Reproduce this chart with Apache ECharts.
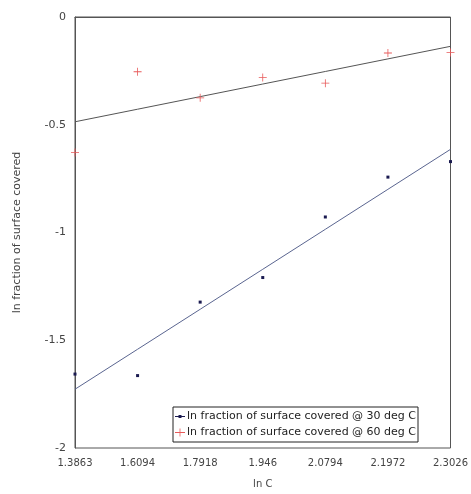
<!DOCTYPE html>
<html>
<head>
<meta charset="utf-8">
<script src="https://cdn.jsdelivr.net/npm/echarts@6/dist/echarts.min.js"></script>
<style>html,body{margin:0;padding:0;background:#fff;}#c{width:471px;height:494px;}</style>
</head>
<body>
<div id="c"></div>
<script>
const categories = ['1.3863', '1.6094', '1.7918', '1.946', '2.0794', '2.1972', '2.3026'];
const series30 = [-1.657, -1.664, -1.323, -1.209, -0.928, -0.743, -0.671];
const series60 = [-0.629, -0.254, -0.375, -0.281, -0.307, -0.167, -0.165];
const name30 = 'ln fraction of surface covered @ 30 deg C';
const name60 = 'ln fraction of surface covered @ 60 deg C';
const yTitle = 'ln fraction of surface covered';
const xTitle = 'ln C';

// linear trendline over category index (as in the original spreadsheet chart)
function trend(vals) {
  const n = vals.length;
  let sx = 0, sy = 0, sxx = 0, sxy = 0;
  vals.forEach((v, i) => { sx += i; sy += v; sxx += i * i; sxy += i * v; });
  const b = (n * sxy - sx * sy) / (n * sxx - sx * sx);
  const a = (sy - b * sx) / n;
  return vals.map((v, i) => +(a + b * i).toFixed(4));
}

const font = '"DejaVu Sans", Verdana, sans-serif';
const chart = echarts.init(document.getElementById('c'));
chart.setOption({
  animation: false,
  backgroundColor: '#fff',
  grid: { left: 75, right: 19, top: 17, bottom: 38, show: true, borderColor: '#555', borderWidth: 1 },
  xAxis: {
    type: 'category', data: categories, boundaryGap: false,
    name: xTitle, nameLocation: 'middle', nameGap: 31,
    nameTextStyle: { fontFamily: font, fontSize: 10, color: '#444' },
    axisLine: { lineStyle: { color: '#555' } },
    axisTick: { show: false },
    axisLabel: { fontFamily: font, fontSize: 10, color: '#444', margin: 10 },
    splitLine: { show: false }
  },
  yAxis: {
    type: 'value', min: -2, max: 0, interval: 0.5,
    name: yTitle, nameLocation: 'middle', nameGap: 52,
    nameTextStyle: { fontFamily: font, fontSize: 11, color: '#444' },
    axisLine: { show: true, lineStyle: { color: '#555' } },
    axisTick: { show: false },
    axisLabel: { fontFamily: font, fontSize: 11, color: '#444', margin: 9 },
    splitLine: { show: false }
  },
  legend: {
    left: 173, top: 407, orient: 'vertical', itemGap: 5,
    padding: [4, 2, 4, 2],
    borderColor: '#222', borderWidth: 1,
    itemWidth: 10, itemHeight: 8,
    textStyle: { fontFamily: font, fontSize: 11, color: '#222', padding: [0, 0, 0, -3] },
    data: [
      { name: name30, icon: 'path://M0,3.5H10V4.5H0Z M3.5,2.5H6.5V5.5H3.5Z' },
      { name: name60, icon: 'path://M0,3.6H10V4.4H0Z M4.6,0H5.4V8H4.6Z' }
    ]
  },
  series: [
    {
      name: name30, type: 'line', data: series30,
      lineStyle: { width: 0, opacity: 0 },
      symbol: 'rect', symbolSize: 3,
      itemStyle: { color: '#1a1a50' },
      z: 5
    },
    {
      name: name60, type: 'line', data: series60,
      lineStyle: { width: 0, opacity: 0 },
      symbol: 'path://M0,3.6H8V4.4H0Z M3.6,0H4.4V8H3.6Z', symbolSize: 8,
      itemStyle: { color: '#e85a5a' },
      z: 5
    },
    {
      name: 'trend30', type: 'line', data: trend(series30),
      symbol: 'none', lineStyle: { width: 1, color: '#5a6590' }, z: 3
    },
    {
      name: 'trend60', type: 'line', data: trend(series60),
      symbol: 'none', lineStyle: { width: 1, color: '#555' }, z: 3
    }
  ]
});
</script>
</body>
</html>
